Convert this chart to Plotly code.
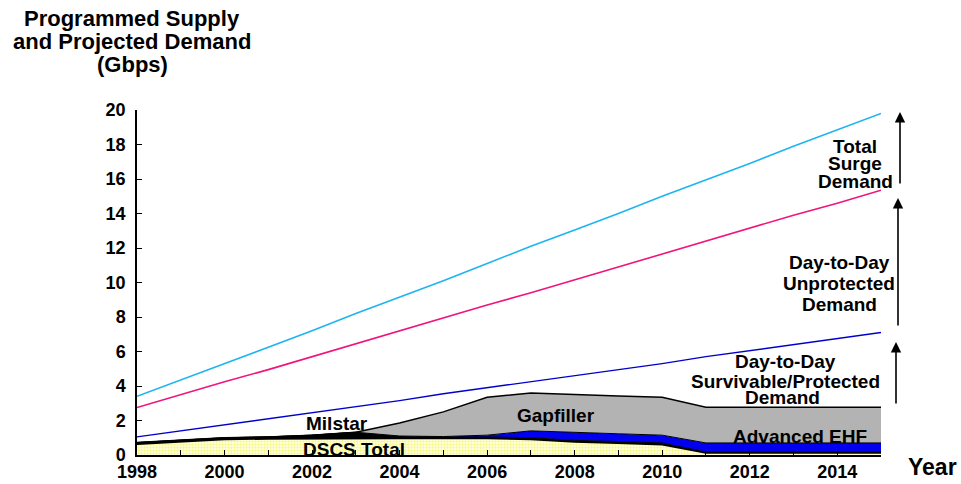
import plotly.graph_objects as go

years = list(range(1998, 2016))

# Demand lines (Gbps)
total_surge = [3.4, 4.35, 5.3, 6.25, 7.2, 8.2, 9.15, 10.1, 11.1, 12.1, 13.05, 14.0, 15.0, 15.95, 16.9, 17.9, 18.85, 19.8]
unprotected = [2.75, 3.5, 4.25, 4.95, 5.7, 6.45, 7.2, 7.95, 8.7, 9.4, 10.15, 10.9, 11.65, 12.4, 13.15, 13.9, 14.6, 15.35]
survivable = [1.05, 1.4, 1.75, 2.1, 2.45, 2.8, 3.15, 3.55, 3.9, 4.25, 4.6, 4.95, 5.3, 5.7, 6.05, 6.4, 6.75, 7.1]

# Programmed supply (stacked increments, Gbps)
dscs = [0.62, 0.75, 0.9, 0.93, 0.95, 0.97, 0.95, 0.95, 0.95, 0.9, 0.75, 0.68, 0.6, 0.12, 0.12, 0.12, 0.12, 0.12]
milstar = [0.1, 0.1, 0.1, 0.12, 0.2, 0.35, 0.15, 0.1, 0.1, 0.1, 0.1, 0.1, 0.1, 0.05, 0.05, 0.05, 0.05, 0.05]
aehf = [0, 0, 0, 0, 0, 0, 0, 0.02, 0.1, 0.4, 0.45, 0.45, 0.45, 0.53, 0.53, 0.53, 0.53, 0.53]
gapfiller = [0, 0, 0, 0, 0, 0, 0.75, 1.43, 2.2, 2.2, 2.2, 2.19, 2.2, 2.07, 2.07, 2.07, 2.07, 2.07]

x_ticks = list(range(1998, 2016))
x_labels = [str(y) if y % 2 == 0 and y < 2015 else "" for y in x_ticks]
y_ticks = list(range(0, 21, 2))

W, H = 961, 484
L, R, T, B = 137, 80, 110, 29
PW, PH = W - L - R, H - T - B


def px(x):
    return (x - L) / PW


def py(y):
    return (H - B - y) / PH


FONT = "Liberation Sans, Arial, sans-serif"

fig = go.Figure()

fig.add_trace(go.Scatter(
    x=years, y=dscs, stackgroup="s", mode="lines",
    line=dict(color="black", width=1.5),
    fillcolor="#ffffcc",
    fillpattern=dict(shape="+", fgcolor="#eeee30", bgcolor="#ffffd8", size=3, solidity=0.35),
    name="DSCS Total"))
fig.add_trace(go.Scatter(
    x=years, y=milstar, stackgroup="s", mode="lines",
    line=dict(color="black", width=1), fillcolor="black", name="Milstar"))
fig.add_trace(go.Scatter(
    x=years, y=aehf, stackgroup="s", mode="lines",
    line=dict(color="black", width=1), fillcolor="#0000ee", name="Advanced EHF"))
fig.add_trace(go.Scatter(
    x=years, y=gapfiller, stackgroup="s", mode="lines",
    line=dict(color="black", width=1.5), fillcolor="#b3b3b3", name="Gapfiller"))

fig.add_trace(go.Scatter(x=years, y=total_surge, mode="lines",
                         line=dict(color="#1eb4f0", width=1.6), name="Total Surge Demand"))
fig.add_trace(go.Scatter(x=years, y=unprotected, mode="lines",
                         line=dict(color="#f0147d", width=1.6), name="Day-to-Day Unprotected Demand"))
fig.add_trace(go.Scatter(x=years, y=survivable, mode="lines",
                         line=dict(color="#0000cc", width=1.4), name="Day-to-Day Survivable/Protected Demand"))

anns = []


def text(t, x, y, size=19):
    anns.append(dict(text="<b>" + t + "</b>", x=px(x), y=py(y), xref="paper", yref="paper",
                     showarrow=False, xanchor="center", yanchor="middle",
                     font=dict(family=FONT, size=size, color="black")))


# title
text("Programmed Supply", 132, 18, 22)
text("and Projected Demand", 132, 41, 22)
text("(Gbps)", 132, 64, 22)
text("Year", 932, 467, 23)

text("Milstar", 337, 423)
text("DSCS Total", 354, 449)
text("Gapfiller", 556, 415)
text("Advanced EHF", 800, 436)

text("Total", 855, 146)
text("Surge", 855, 163)
text("Demand", 855, 181)

text("Day-to-Day", 839, 262)
text("Unprotected", 839, 283)
text("Demand", 839, 304)

text("Day-to-Day", 785, 361)
text("Survivable/Protected", 785, 381)
text("Demand", 782, 397)


def arrow(x, ytip, ytail):
    anns.append(dict(text="", x=px(x), y=py(ytip), xref="paper", yref="paper",
                     ax=0, ay=ytail - ytip, axref="pixel", ayref="pixel",
                     showarrow=True, arrowhead=2, arrowsize=1.3, arrowwidth=1.6,
                     arrowcolor="black"))


arrow(900, 112, 185)
arrow(898, 198, 327)
arrow(896, 342, 405)

fig.update_layout(
    width=W, height=H,
    margin=dict(l=L, r=R, t=T, b=B, pad=0, autoexpand=False),
    paper_bgcolor="white", plot_bgcolor="white",
    showlegend=False,
    annotations=anns,
    font=dict(family=FONT, color="black"),
    xaxis=dict(range=[1998, 2015], tickvals=x_ticks, ticktext=x_labels,
               ticks="inside", ticklen=5, tickwidth=1.2, tickcolor="black",
               showline=True, linecolor="black", linewidth=1.5,
               showgrid=False, zeroline=False, automargin=False,
               tickfont=dict(family=FONT, size=18, color="black", weight=700)),
    yaxis=dict(range=[0, 20], tickvals=y_ticks,
               ticks="inside", ticklen=5, tickwidth=1.2, tickcolor="black",
               showline=True, linecolor="black", linewidth=1.5,
               showgrid=False, zeroline=False, ticklabelstandoff=6, automargin=False,
               tickfont=dict(family=FONT, size=18, color="black", weight=700)),
)

fig.write_html("out.html")
